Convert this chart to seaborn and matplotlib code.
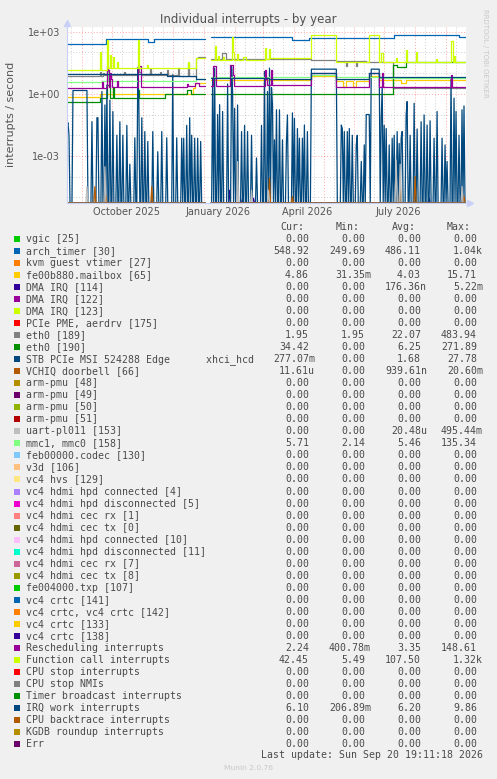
import numpy as np
import pandas as pd
import matplotlib
matplotlib.use('Agg')
import matplotlib.pyplot as plt
import matplotlib.dates as mdates
from matplotlib.patches import Rectangle
from matplotlib.ticker import NullFormatter
import seaborn as sns

W, H = 497, 779
nan = np.nan

# munin default colour cycle (29 colours, then it wraps)
munin_palette = ['#00CC00', '#0066B3', '#FF8000', '#FFCC00', '#330099', '#990099', '#CCFF00', '#FF0000',
                 '#808080', '#008F00', '#00487D', '#B35A00', '#B38F00', '#6B006B', '#8FB300', '#B30000',
                 '#BEBEBE', '#80FF80', '#80C9FF', '#FFC080', '#FFE680', '#AA80FF', '#EE00CC', '#FF8080',
                 '#666600', '#FFBFFF', '#00FFCC', '#CC6699', '#999900']

labels = ['vgic [25]', 'arch_timer [30]', 'kvm guest vtimer [27]', 'fe00b880.mailbox [65]', 'DMA IRQ [114]',
          'DMA IRQ [122]', 'DMA IRQ [123]', 'PCIe PME, aerdrv [175]', 'eth0 [189]', 'eth0 [190]',
          'STB PCIe MSI 524288 Edge      xhci_hcd', 'VCHIQ doorbell [66]', 'arm-pmu [48]', 'arm-pmu [49]',
          'arm-pmu [50]', 'arm-pmu [51]', 'uart-pl011 [153]', 'mmc1, mmc0 [158]', 'feb00000.codec [130]',
          'v3d [106]', 'vc4 hvs [129]', 'vc4 hdmi hpd connected [4]', 'vc4 hdmi hpd disconnected [5]',
          'vc4 hdmi cec rx [1]', 'vc4 hdmi cec tx [0]', 'vc4 hdmi hpd connected [10]',
          'vc4 hdmi hpd disconnected [11]', 'vc4 hdmi cec rx [7]', 'vc4 hdmi cec tx [8]', 'fe004000.txp [107]',
          'vc4 crtc [141]', 'vc4 crtc, vc4 crtc [142]', 'vc4 crtc [133]', 'vc4 crtc [138]',
          'Rescheduling interrupts', 'Function call interrupts', 'CPU stop interrupts', 'CPU stop NMIs',
          'Timer broadcast interrupts', 'IRQ work interrupts', 'CPU backtrace interrupts',
          'KGDB roundup interrupts', 'Err']

z = '0.00'
cur_vals = [z, '548.92', z, '4.86', z, z, z, z, '1.95', '34.42', '277.07m', '11.61u'] + [z] * 4 + \
           [z, '5.71'] + [z] * 16 + ['2.24', '42.45', z, z, z, '6.10', z, z, z]
min_vals = [z, '249.69', z, '31.35m', z, z, z, z, '1.95', z, z, z] + [z] * 4 + \
           [z, '2.14'] + [z] * 16 + ['400.78m', '5.49', z, z, z, '206.89m', z, z, z]
avg_vals = [z, '486.11', z, '4.03', '176.36n', z, z, z, '22.07', '6.25', '1.68', '939.61n'] + [z] * 4 + \
           ['20.48u', '5.46'] + [z] * 16 + ['3.35', '107.50', z, z, z, '6.20', z, z, z]
max_vals = [z, '1.04k', z, '15.71', '5.22m', z, z, z, '483.94', '271.89', '27.78', '20.60m'] + [z] * 4 + \
           ['495.44m', '135.34'] + [z] * 16 + ['148.61', '1.32k', z, z, z, '9.86', z, z, z]

# step-like series: (day since start, interrupts/s), drawn as steps
arch_timer_pts = [(0, 262), (39, 445), (81, 330), (87, 455), (138, nan), (144, 530), (226, 396),
                  (243, 495), (328, 715), (393, 553), (400, 553)]
mailbox_pts = [(0, 0.74), (33, 0.97), (126, 2.0), (128, 3.3), (138, nan), (144, 4.7), (203, 4.9),
               (245, 6.9), (270, 4.3), (277, 2.2), (280, 4.3), (287, 2.2), (290, 4.3), (303, 6.9),
               (313, 4.9), (335, 3.5), (340, 4.9), (400, 4.9)]
eth189_pts = [(0, 6.9), (33, 12), (34, 6.9), (36, 10), (37, 8), (40, 14.5), (41, 8), (57, 12), (58, 8),
              (71, 21), (72, 12), (74, 8), (83, 16), (84, 8), (93, 12), (94, 8), (100, 14), (101, 8),
              (111, 17.5), (112, 7), (121, 30), (122, 7), (129, 55), (131, 63), (138, nan), (144, 50),
              (155, 93), (158, 93), (159, 48), (245, 42), (270, 39), (280, 21), (281, 39), (290, 23),
              (291, 39), (300, 33), (327, 1.95), (400, 1.95)]
eth190_pts = [(0, 0.42), (33, 0.66), (40, 2.7), (43, 0.66), (46, 2), (47, 0.66), (71, 1.6), (72, 0.66),
              (98, 0.97), (120, 1.6), (124, 0.97), (138, nan), (144, 0.97), (327, 25), (331, 19),
              (340, 33), (400, 34)]
mmc_pts = [(0, 3.7), (35, 4.3), (40, 12), (41, 4.3), (129, 5.3), (138, nan), (144, 6.6), (245, 7.7),
           (270, 6.4), (313, 5.8), (400, 5.7)]
resched_pts = [(0, 1.9), (35, 3.9), (36, 1.9), (40, 21), (41, 15), (42, 2.25), (43, 10), (44, 5),
               (45, 2.25), (50, 4), (51, 2.25), (71, 21), (73, 21), (74, 2.25), (120, 3), (121, 2.4),
               (128, 3.3), (132, 2.4), (138, nan), (144, 2.4), (146, 21), (148, 21), (149, 2.4),
               (163, 25), (165, 25), (166, 8), (167, 2.4), (198, 15), (199, 5), (201, 2.7), (205, 15),
               (206, 2.7), (245, 10), (270, 2.25), (303, 10), (313, 2.25), (316, 10), (317, 2.25),
               (385, 8.3), (386, 2.25), (393, 2.1), (400, 2.1)]
func_call_pts = [(0, 14.5), (33, 111), (34, 14.5), (40, 410), (41, 18.7), (43, 77), (44, 18.7), (46, 60),
                 (47, 18.7), (50, 36), (51, 18.7), (71, 410), (72, 18.7), (80, 25), (81, 18.7), (121, 36),
                 (122, 17.5), (129, 53), (138, nan), (144, 44), (148, 195), (149, 44), (151, 70),
                 (152, 44), (156, 60), (157, 44), (165, 590), (166, 110), (167, 44), (170, 80), (171, 44),
                 (176, 60), (178, 60), (179, 44), (198, 160), (199, 50), (203, 150), (204, 53),
                 (245, 715), (270, 36.5), (303, 715), (313, 36.5), (315, 93), (317, 36.5), (330, 55),
                 (331, 36.5), (340, 134), (341, 36.5), (350, 110), (351, 36.5), (370, 50), (371, 36.5),
                 (385, 340), (387, 36.5), (388, 70), (389, 34), (400, 34)]
irq_work_pts = [(0, 9), (100, 6.9), (129, 5.3), (138, nan), (144, 5.7), (203, 5.1), (245, 9.8),
                (270, 5.1), (303, 9.8), (313, 6.4), (400, 6.1)]

# spiky daily series: non-zero days only, zero everywhere else
stb_spikes = {0: 0.03, 1: 0.04, 2: 0.01, 25: 0.045, 30: 0.07, 31: 0.07, 35: 1.3, 38: 0.29, 40: 2.7,
              43: 0.5, 46: 0.14, 50: 0.01, 53: 0.045, 56: 0.01, 60: 0.03, 63: 0.0004, 68: 0.0075, 71: 18,
              72: 0.5, 75: 0.07, 78: 0.015, 81: 0.005, 86: 0.015, 91: 0.0016, 95: 0.015, 100: 0.0075,
              106: 8.3, 110: 0.0075, 115: 0.0072, 117: 0.0072, 120: 0.03, 123: 0.07, 125: 0.01,
              128: 0.0072, 131: 0.0072, 134: 0.005, 146: 5.7, 148: 17.5, 151: 0.1, 153: 0.3, 156: 0.14,
              161: 3, 165: 21, 166: 1.3, 168: 0.2, 171: 0.29, 175: 0.015, 178: 0.03, 181: 0.015,
              185: 0.01, 190: 0.0008, 195: 0.03, 198: 12, 201: 1.3, 203: 17.5, 205: 2, 206: 0.3,
              208: 0.006, 210: 0.17, 213: 0.17, 216: 0.006, 220: 0.005, 221: 0.096, 226: 0.12,
              228: 0.066, 231: 0.021, 233: 0.0072, 236: 0.0072, 238: 0.031, 241: 0.015, 275: 0.031,
              276: 0.021, 278: 0.015, 281: 0.015, 283: 0.021, 286: 0.01, 290: 0.0034, 291: 0.01,
              295: 0.00054, 298: 0.0034, 315: 0.066, 316: 2.2, 318: 0.03, 320: 0.021, 323: 0.0034,
              326: 0.0072, 328: 0.01, 331: 0.015, 333: 0.004, 335: 0.0072, 336: 0.015, 340: 0.096,
              341: 0.42, 344: 0.01, 348: 0.35, 351: 0.02, 355: 0.045, 358: 0.096, 361: 0.031, 364: 0.05,
              368: 0.0072, 371: 0.14, 376: 0.0072, 379: 0.0034, 381: 0.00054, 385: 5.7, 388: 0.62,
              390: 0.14, 393: 0.01, 396: 0.17, 398: 0.26}
stb_plateaus = [(6, 20, 1.45), (245, 270, 15.6), (300, 303, 0.1), (305, 313, 15.6)]
vchiq_spikes = {28: 3.3e-5, 39: 1.3e-5, 85: 3.3e-5, 203: 8.4e-5, 226: 1.1e-5, 334: 8.4e-5, 349: 1e-4,
                398: 1.1e-5}
uart_spikes = {20: 3.3e-5, 38: 3e-4, 171: 5.3e-4, 185: 2.2e-5, 202: 2.2e-5, 330: 6.4e-4, 334: 4e-4,
               396: 3.3e-5}
dma114_spikes = {163: 2.2e-5, 176: 9e-6, 187: 9e-6, 363: 9e-6, 395: 9e-6}

x_label_text = ['October 2025', 'January 2026', 'April 2026', 'July 2026']
x_label_dates = ['2025-10-15', '2026-01-15', '2026-04-15', '2026-07-15']

start = pd.Timestamp('2025-08-16 19:11')
days = np.arange(401)
gap_days = list(range(139, 144))
floor = 5.3e-6


def to_dates(d):
    return start + pd.to_timedelta(np.asarray(d, dtype=float), unit='D')


def daily(spikes, plateaus=()):
    y = np.zeros(len(days))
    for d0, d1, v in plateaus:
        y[d0:d1 + 1] = v
    for d, v in spikes.items():
        y[d] = v
    y[gap_days] = nan
    return y


step_series = {1: arch_timer_pts, 3: mailbox_pts, 8: eth189_pts, 9: eth190_pts, 17: mmc_pts,
               34: resched_pts, 35: func_call_pts, 39: irq_work_pts}
daily_series = {4: daily(dma114_spikes), 10: daily(stb_spikes, stb_plateaus), 11: daily(vchiq_spikes),
                16: daily(uart_spikes)}

sns.set_theme(style='white')
plt.rcParams['font.family'] = ['DejaVu Sans']
colors = sns.color_palette([munin_palette[i % len(munin_palette)] for i in range(len(labels))])

fig = plt.figure(figsize=(W / 100, H / 100), dpi=100, facecolor='#F0F0F0')
ax = fig.add_axes([67 / W, 1 - 203 / H, 399 / W, 176 / H], facecolor='white')

for i, lab in enumerate(labels):
    col = colors[i]
    if i in step_series:
        pts = step_series[i]
        xs = to_dates([p[0] for p in pts])
        ys = np.array([p[1] for p in pts], dtype=float)
        ax.plot(xs, np.maximum(ys, floor), color=col, lw=0.9, drawstyle='steps-post')
    else:
        ys = daily_series[i] if i in daily_series else daily({})
        ax.plot(to_dates(days), np.where(np.isnan(ys), nan, np.maximum(ys, floor)), color=col, lw=0.9)

ax.set_yscale('log')
ax.set_ylim(floor, 1.7e3)
ax.set_xlim(to_dates([0])[0], to_dates([400])[0])

ax.set_yticks([1e-3, 1, 1e3], labels=['1e-03', '1e+00', '1e+03'])
ax.set_yticks([1e-5, 1e-4, 1e-2, 1e-1, 10, 100], minor=True)
ax.yaxis.set_minor_formatter(NullFormatter())
ax.xaxis.set_major_locator(mdates.MonthLocator())
ax.xaxis.set_minor_locator(mdates.DayLocator(bymonthday=[11, 21]))
ax.xaxis.set_major_formatter(NullFormatter())
ax.xaxis.set_minor_formatter(NullFormatter())

ax.grid(which='major', color='#FF0000', alpha=0.35, ls=(0, (1, 2)), lw=0.7)
ax.grid(which='minor', color='#A0A0A0', alpha=0.5, ls=(0, (1, 2)), lw=0.7)
ax.tick_params(which='both', length=2, width=0.6, direction='out', labelsize=7, labelcolor='#555555',
               pad=3)
ax.tick_params(which='major', color='#F0A0A0')
ax.tick_params(which='minor', color='#C0C0C0')
for s in ['top', 'right']:
    ax.spines[s].set_visible(False)
for s in ['left', 'bottom']:
    ax.spines[s].set_color('#C8D0F8')
    ax.spines[s].set_linewidth(0.8)
ax.plot([0], [1.025], marker='^', ms=4, color='#C8D0F8', transform=ax.transAxes, clip_on=False)
ax.plot([1.01], [0], marker='>', ms=4, color='#C8D0F8', transform=ax.transAxes, clip_on=False)

for txt, d in zip(x_label_text, x_label_dates):
    ax.text(pd.Timestamp(d), -9 / 176, txt, transform=ax.get_xaxis_transform(), ha='center', va='center',
            fontsize=7, color='#555555')


def px(x, y):
    return x / W, 1 - y / H


fig.text(*px(248.5, 19), 'Individual interrupts - by year', ha='center', va='center', fontsize=8.5,
         color='#505050')
fig.text(*px(11, 114), 'interrupts / second', rotation=90, ha='center', va='center', fontsize=8,
         color='#555555')
fig.text(*px(485, 53), 'RRDTOOL / TOBI OETIKER', rotation=270, ha='center', va='center', fontsize=5,
         color='#C8C8C8')

mono = dict(family='DejaVu Sans Mono', fontsize=7.15, color='#4A4A4A', va='center')
for hx, h in zip([280, 336, 392, 447], ['Cur:', 'Min:', 'Avg:', 'Max:']):
    fig.text(*px(hx, 227), h, ha='left', **mono)

col_right = [309, 365, 421, 477]
char_w = 5.95
for i, lab in enumerate(labels):
    y = 239.3 + 12.01 * i
    fig.patches.append(Rectangle(px(14, y + 3), 6 / W, 6 / H, transform=fig.transFigure,
                                 facecolor=colors[i], edgecolor='none'))
    fig.text(*px(26, y), lab, ha='left', **mono)
    for xr, vals in zip(col_right, [cur_vals, min_vals, avg_vals, max_vals]):
        v = vals[i]
        if v[-1].isalpha():
            fig.text(*px(xr + char_w, y), v, ha='right', **mono)
        else:
            fig.text(*px(xr, y), v, ha='right', **mono)

fig.text(*px(483, 755.3), 'Last update: Sun Sep 20 19:11:18 2026', ha='right', **mono)
fig.text(*px(248, 767.7), 'Munin 2.0.76', ha='center', va='center', fontsize=5.4, color='#C8C8C8')

fig.savefig('out.png', dpi=100, facecolor=fig.get_facecolor())
